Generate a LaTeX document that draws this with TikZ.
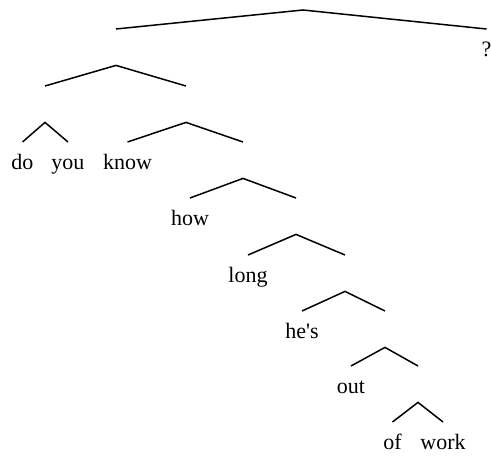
\documentclass[tikz,border=0pt]{standalone}
\usepackage{fontspec}
\setmainfont{Liberation Serif}
\begin{document}
\begin{tikzpicture}[x=1pt,y=-1pt,
  leaf/.style={anchor=north,inner xsep=0pt,inner ysep=12pt,text height=15pt,text depth=4pt,font=\fontsize{22}{26}\selectfont},
  inner/.style={anchor=north,inner sep=0pt,minimum width=0pt,minimum height=36pt},
  branch/.style={line width=1.5pt,black}]
\useasboundingbox (0,0) rectangle (491,457);
% internal (unlabelled) nodes, placed by their top point
\node[inner,anchor=south] (R) at (303,10) {};
\node[inner] (A) at (116,29) {};
\node[inner] (B) at (45,86) {};
\node[inner] (C) at (186,86) {};
\node[inner] (D) at (243,142) {};
\node[inner] (E) at (296,198) {};
\node[inner] (F) at (345,255) {};
\node[inner] (G) at (385,311) {};
\node[inner] (H) at (418,366) {};
% leaves
\node[leaf] (q) at (486.5,29) {?};
\node[leaf] (do) at (22.5,142) {do};
\node[leaf] (you) at (68,142) {you};
\node[leaf] (know) at (127.5,142) {know};
\node[leaf] (how) at (190,198) {how};
\node[leaf] (long) at (248,255) {long};
\node[leaf] (hes) at (302,311) {he\textquotesingle s};
\node[leaf] (out) at (351,366) {out};
\node[leaf] (of) at (392.5,422) {of};
\node[leaf] (work) at (443,422) {work};
% branches
\draw[branch] (A.north) -- (R.south) -- (q.north);
\draw[branch] (B.north) -- (A.south) -- (C.north);
\draw[branch] (do.north) -- (B.south) -- (you.north);
\draw[branch] (know.north) -- (C.south) -- (D.north);
\draw[branch] (how.north) -- (D.south) -- (E.north);
\draw[branch] (long.north) -- (E.south) -- (F.north);
\draw[branch] (hes.north) -- (F.south) -- (G.north);
\draw[branch] (out.north) -- (G.south) -- (H.north);
\draw[branch] (of.north) -- (H.south) -- (work.north);
\end{tikzpicture}
\end{document}
